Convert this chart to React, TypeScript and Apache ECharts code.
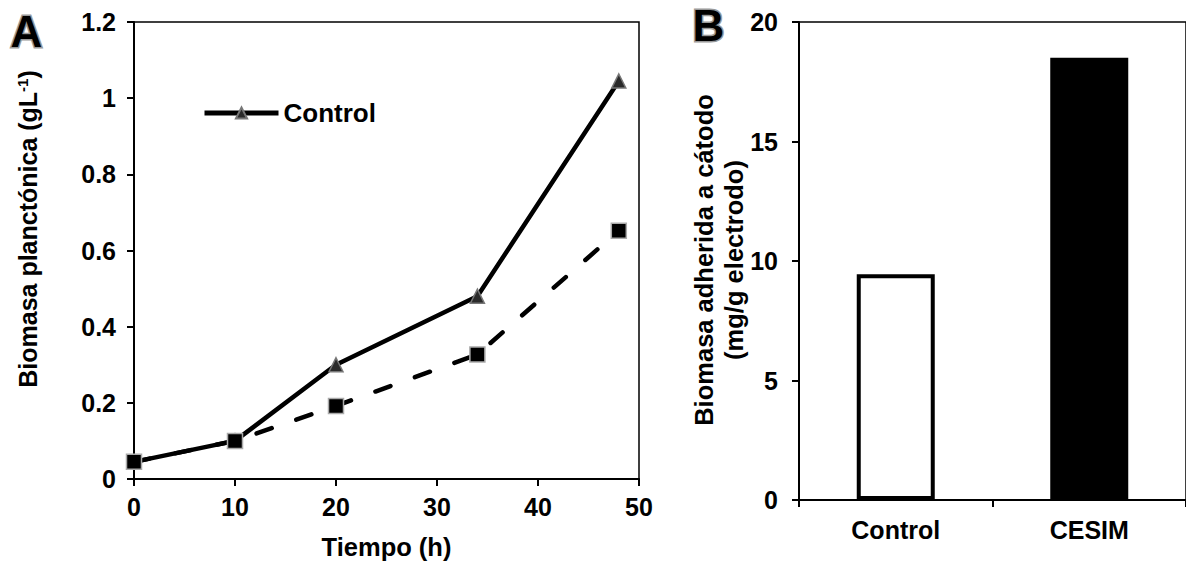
import React, { useEffect, useRef } from "react";
import * as echarts from "echarts";

const timeHours = [0, 10, 20, 34, 48];
const controlBiomass = [0.045, 0.1, 0.3, 0.48, 1.045];
const cesimBiomass = [0.045, 0.1, 0.192, 0.327, 0.652];
const barCategories = ["Control", "CESIM"];
const barValues = [9.45, 18.5];

const FONT = "'Liberation Sans', Arial, sans-serif";

export default function App() {
  const ref = useRef<HTMLDivElement>(null);
  useEffect(() => {
    if (!ref.current) return;
    const chart = echarts.init(ref.current, null, { renderer: "svg" });
    const labelStyle = { color: "#000", fontFamily: FONT, fontWeight: "bold" as const, fontSize: 25 };
    const axisLine = { show: true, lineStyle: { color: "#000", width: 2 } };
    const axisTick = { show: true, length: 7, lineStyle: { color: "#000", width: 2 } };
    const letterStyle = (t: string) => ({
      text: t,
      fill: "#000",
      stroke: "#999",
      lineWidth: 3,
      strokeFirst: true,
      font: `bold 44px ${FONT}`,
    });
    chart.setOption({
      animation: false,
      textStyle: { fontFamily: FONT },
      grid: [
        { left: 134, top: 22, width: 505, height: 460, show: true, borderColor: "#000", borderWidth: 1.5 },
        { left: 799, top: 22, width: 388, height: 478, show: true, borderColor: "#000", borderWidth: 1.5 },
      ],
      legend: {
        show: true,
        data: ["Control"],
        left: 197,
        top: 95,
        itemWidth: 74,
        itemHeight: 14,
        itemGap: 10,
        lineStyle: { width: 5, color: "#000" },
        textStyle: { ...labelStyle, fontSize: 26, padding: [0, 0, 0, 0] },
      },
      xAxis: [
        {
          gridIndex: 0,
          type: "value",
          min: 0,
          max: 50,
          interval: 10,
          axisLine,
          axisTick,
          splitLine: { show: false },
          axisLabel: { ...labelStyle, margin: 15 },
          name: "Tiempo (h)",
          nameLocation: "middle",
          nameGap: 55,
          nameTextStyle: { ...labelStyle, fontSize: 25.5 },
        },
        {
          gridIndex: 1,
          type: "category",
          data: barCategories,
          axisLine,
          axisTick: { ...axisTick, alignWithLabel: false },
          axisLabel: { ...labelStyle, margin: 17 },
        },
      ],
      yAxis: [
        {
          gridIndex: 0,
          type: "value",
          min: 0,
          max: 1.2,
          interval: 0.2,
          axisLine,
          axisTick,
          splitLine: { show: false },
          axisLabel: { ...labelStyle, margin: 18 },
        },
        {
          gridIndex: 1,
          type: "value",
          min: 0,
          max: 20,
          interval: 5,
          axisLine,
          axisTick,
          splitLine: { show: false },
          axisLabel: { ...labelStyle, margin: 21 },
        },
      ],
      series: [
        {
          name: "Control",
          type: "line",
          xAxisIndex: 0,
          yAxisIndex: 0,
          data: timeHours.map((t, i) => [t, controlBiomass[i]]),
          symbol: "triangle",
          symbolSize: 14,
          itemStyle: { color: "#2a2a2a", borderColor: "#777", borderWidth: 1.5 },
          lineStyle: { color: "#000", width: 4.5 },
          z: 2,
        },
        {
          name: "CESIM",
          type: "line",
          xAxisIndex: 0,
          yAxisIndex: 0,
          data: timeHours.map((t, i) => [t, cesimBiomass[i]]),
          symbol: "rect",
          symbolSize: 15,
          itemStyle: { color: "#000", borderColor: "#aaa", borderWidth: 1.5 },
          lineStyle: { color: "#000", width: 4.5, type: [16, 26], cap: "round" },
          z: 3,
        },
        {
          name: "Biomasa adherida",
          type: "bar",
          xAxisIndex: 1,
          yAxisIndex: 1,
          barWidth: 78,
          data: barValues.map((v, i) => ({
            value: v,
            itemStyle:
              i === 0
                ? { color: "#fff", borderColor: "#000", borderWidth: 4 }
                : { color: "#000", borderColor: "#000", borderWidth: 2 },
          })),
        },
      ],
      graphic: [
        { type: "text", left: 9, top: 8, z: 10, style: letterStyle("A") },
        { type: "text", left: 691, top: 2, z: 10, style: letterStyle("B") },
        {
          type: "text",
          x: 28,
          y: 229,
          rotation: Math.PI / 2,
          style: {
            text: "Biomasa planctónica (gL{sup|-1})",
            align: "center",
            verticalAlign: "middle",
            fill: "#000",
            font: `bold 25px ${FONT}`,
            rich: {
              sup: { fontSize: 15, fontWeight: "bold", fontFamily: FONT, fill: "#000", padding: [0, 0, 11, 0] },
            },
          },
        },
        {
          type: "text",
          x: 719,
          y: 260,
          rotation: Math.PI / 2,
          style: {
            text: "Biomasa adherida a cátodo\n(mg/g electrodo)",
            align: "center",
            verticalAlign: "middle",
            fill: "#000",
            font: `bold 25.5px ${FONT}`,
            lineHeight: 30,
          },
        },
      ],
    });
    return () => chart.dispose();
  }, []);
  return <div ref={ref} style={{ width: 1186, height: 565, position: "absolute", left: 0, top: 0 }} />;
}
